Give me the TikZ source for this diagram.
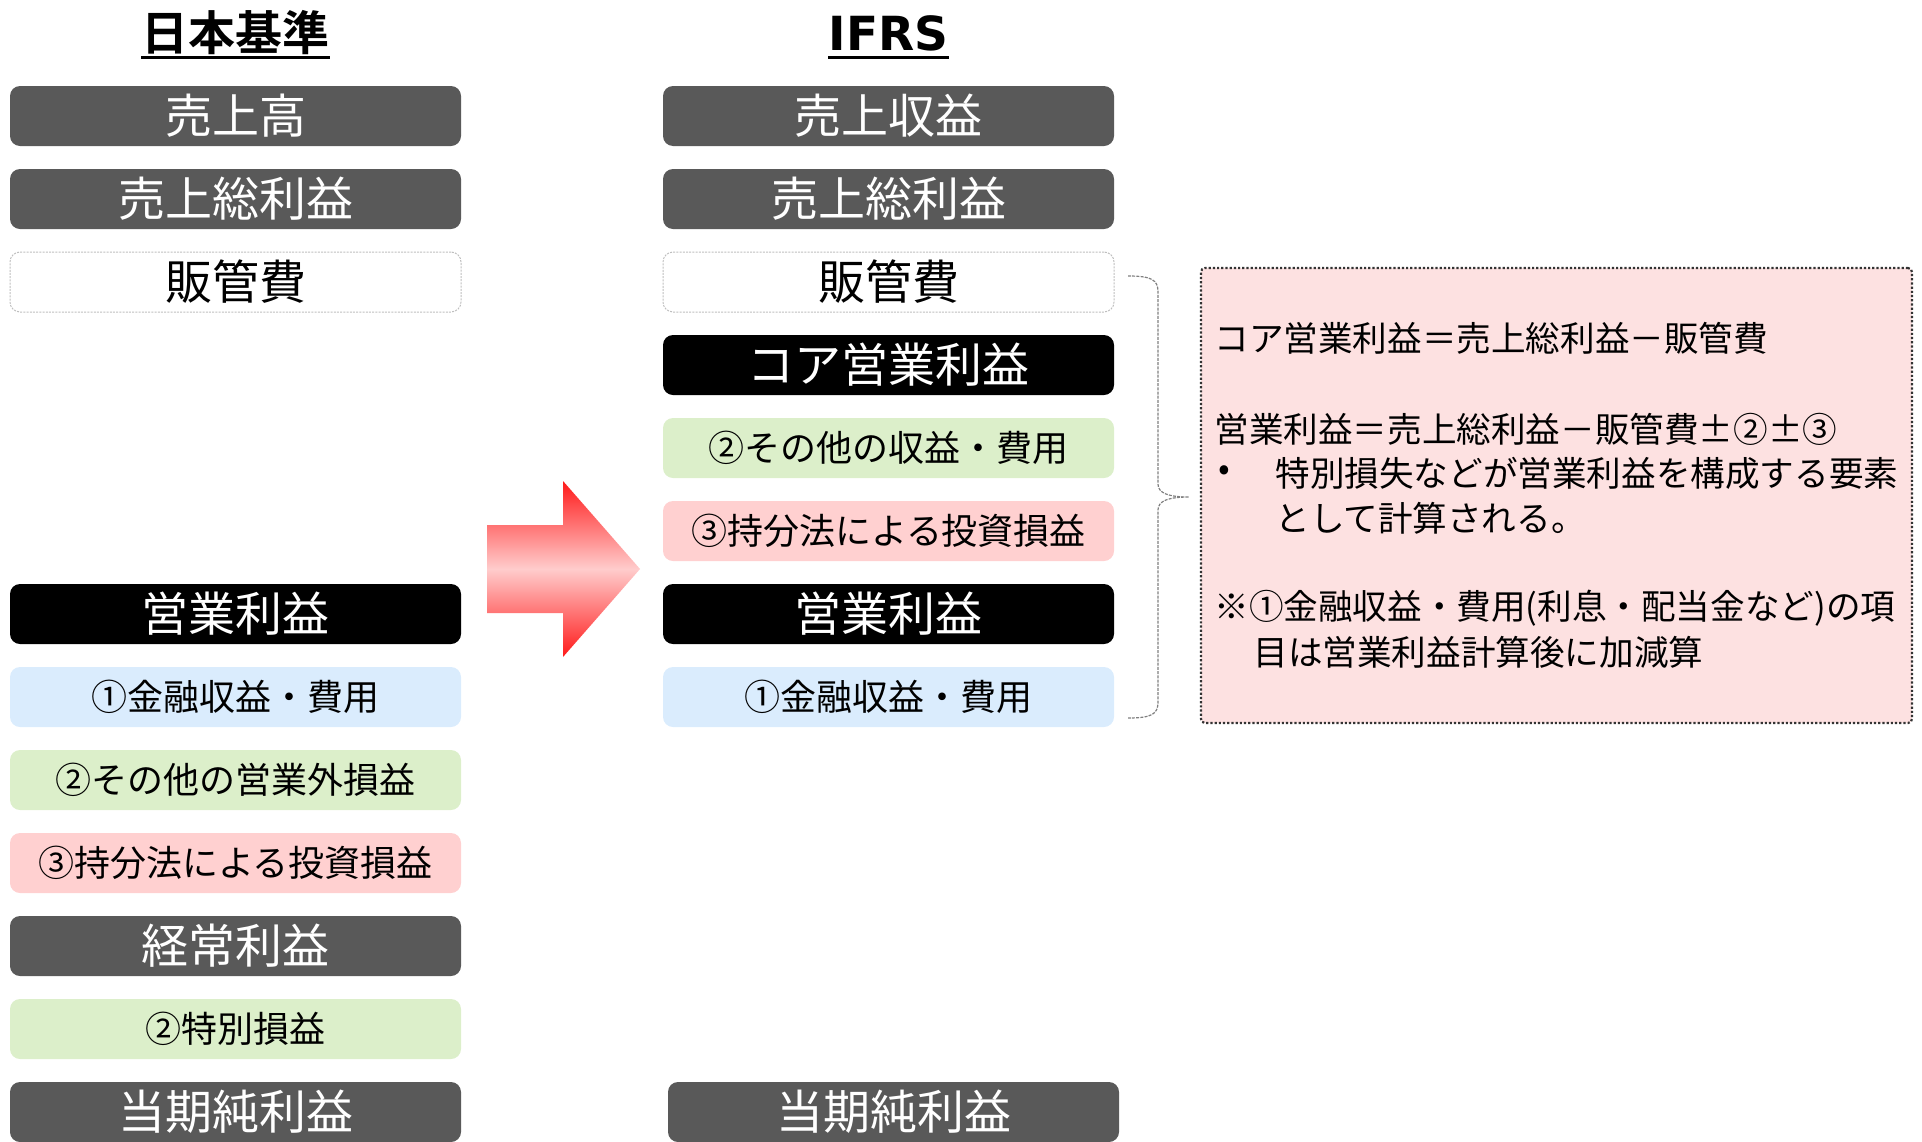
\documentclass[tikz,border=0pt]{standalone}
\usepackage{fontspec}
\setmainfont{Noto Sans CJK JP}[BoldFont={Noto Sans CJK JP Bold}]
\newfontfamily\latinhead{DejaVu Sans}

\definecolor{boxgray}{HTML}{595959}
\definecolor{boxgreen}{HTML}{DCEFCA}
\definecolor{boxpink}{HTML}{FFD0D0}
\definecolor{boxblue}{HTML}{DAECFD}
\definecolor{notepink}{HTML}{FDE1E1}
\definecolor{arrowpink}{HTML}{FFCCCC}
\definecolor{arrowred}{HTML}{FF1A1A}

\tikzset{
  item/.style={rounded corners=5pt, minimum width=225.5pt, minimum height=30pt, inner sep=0pt,
    font=\fontsize{23.5}{28}\selectfont},
  darkitem/.style={item, fill=boxgray, text=white},
  blackitem/.style={item, fill=black, text=white},
  costitem/.style={item, fill=white, draw=gray!50, dash pattern=on 1pt off 0.6pt, line width=0.5pt},
  subitem/.style={item, font=\fontsize{18}{22}\selectfont},
  heading/.style={inner sep=0pt, anchor=base, font=\bfseries\fontsize{23.5}{28}\selectfont},
  notetext/.style={anchor=west, inner sep=0pt, font=\fontsize{17.3}{21}\selectfont},
  bracestyle/.style={draw=gray, line width=0.6pt, dash pattern=on 1.5pt off 0.6pt},
}

\begin{document}
\begin{tikzpicture}[x=0.5pt, y=-0.5pt]
    \useasboundingbox (0,0) rectangle (1922,1141);

    % headings
    \node[heading] (hjp) at (235.5,50) {日本基準};
    \node[heading, font=\latinhead\bfseries\fontsize{23.5}{28}\selectfont] (hifrs) at (888.5,50) {IFRS};
    \draw[line width=1.5pt] ([yshift=-3.5pt]hjp.base west) -- ([yshift=-3.5pt]hjp.base east);
    \draw[line width=1.5pt] ([yshift=-3.5pt]hifrs.base west) -- ([yshift=-3.5pt]hifrs.base east);

    % Japanese GAAP column
    \node[darkitem] (L0) at (235.5,116) {売上高};
    \node[darkitem] (L1) at (235.5,199) {売上総利益};
    \node[costitem] (L2) at (235.5,282) {販管費};
    \node[blackitem] (L6) at (235.5,614) {営業利益};
    \node[subitem, fill=boxblue] (L7) at (235.5,697) {①金融収益・費用};
    \node[subitem, fill=boxgreen] (L8) at (235.5,780) {②その他の営業外損益};
    \node[subitem, fill=boxpink] (L9) at (235.5,863) {③持分法による投資損益};
    \node[darkitem] (L10) at (235.5,946) {経常利益};
    \node[subitem, fill=boxgreen] (L11) at (235.5,1029) {②特別損益};
    \node[darkitem] (L12) at (235.5,1112) {当期純利益};

    % IFRS column
    \node[darkitem] (R0) at (888.5,116) {売上収益};
    \node[darkitem] (R1) at (888.5,199) {売上総利益};
    \node[costitem] (R2) at (888.5,282) {販管費};
    \node[blackitem] (R3) at (888.5,365) {コア営業利益};
    \node[subitem, fill=boxgreen] (R4) at (888.5,448) {②その他の収益・費用};
    \node[subitem, fill=boxpink] (R5) at (888.5,531) {③持分法による投資損益};
    \node[blackitem] (R6) at (888.5,614) {営業利益};
    \node[subitem, fill=boxblue] (R7) at (888.5,697) {①金融収益・費用};
    \node[darkitem] (R12) at (893.5,1112) {当期純利益};

    % big arrow
    \shade[top color=arrowred, bottom color=arrowred, middle color=arrowpink]
        (487,525) -- (563,525) -- (563,481) -- (640,569) -- (563,657) -- (563,613) -- (487,613) -- cycle;

    % brace
    \coordinate (bracetop) at (1128,276);
    \coordinate (bracetip) at (1189,497);
    \coordinate (bracebot) at (1128,718);
    \draw[bracestyle] (bracetop) .. controls (1152,276) and (1158,280) .. (1158,292) -- (1158,484)
        .. controls (1158,493) and (1168,497) .. (bracetip)
        .. controls (1168,497) and (1158,501) .. (1158,510) -- (1158,702)
        .. controls (1158,714) and (1152,718) .. (bracebot);

    % note
    \node[fill=notepink, draw=black!80, densely dotted, line width=1.1pt, rounded corners=2pt,
        minimum width=355.5pt, minimum height=227.5pt] (note) at (1556.5,495.5) {};
    \node[notetext] (n1) at (1214,338) {コア営業利益＝売上総利益－販管費};
    \node[notetext] (n2) at (1214,429) {営業利益＝売上総利益－販管費±②±③};
    \node[notetext] (n3) at (1218,473) {•};
    \node[notetext] (n4) at (1275,473) {特別損失などが営業利益を構成する要素};
    \node[notetext] (n5) at (1275,518) {として計算される。};
    \node[notetext] (n6) at (1214,608) {※①金融収益・費用(利息・配当金など)の項};
    \node[notetext] (n7) at (1253,652) {目は営業利益計算後に加減算};
\end{tikzpicture}
\end{document}
